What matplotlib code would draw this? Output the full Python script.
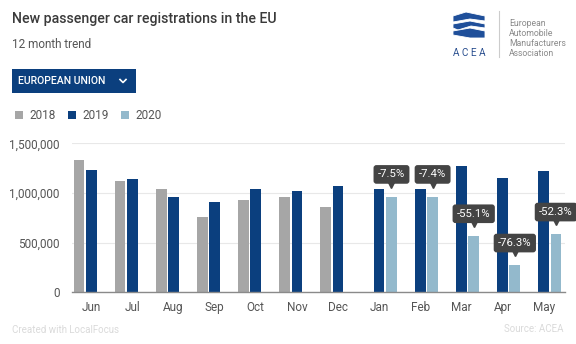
import numpy as np
import matplotlib.pyplot as plt
from matplotlib.patches import FancyBboxPatch, Polygon
from matplotlib.lines import Line2D
from matplotlib.transforms import offset_copy

plt.rcParams['font.family'] = ['Roboto', 'DejaVu Sans']

months = ['Jun', 'Jul', 'Aug', 'Sep', 'Oct', 'Nov', 'Dec', 'Jan', 'Feb', 'Mar', 'Apr', 'May']
years = ['2018', '2019', '2020']
reg_2018 = [1332000, 1121000, 1043000, 758000, 933000, 963000, 856000, np.nan, np.nan, np.nan, np.nan, np.nan]
reg_2019 = [1228000, 1138000, 957000, 909000, 1037000, 1020000, 1074000, 1037000, 1037000, 1272000, 1148000, 1221000]
reg_2020 = [np.nan] * 7 + [963000, 963000, 567000, 272000, 584000]
change_labels = [None] * 7 + ['-7.5%', '-7.4%', '-55.1%', '-76.3%', '-52.3%']

colors = ['#a6a6a6', '#0b3f7e', '#93b9cc']
W, H = 576, 344


def fx(px):
    return px / W


def fy(py):
    return 1 - py / H


fig = plt.figure(figsize=(W / 100, H / 100), dpi=100)
ax = fig.add_axes([fx(72), fy(292.3), fx(565) - fx(72), fy(143.3) - fy(292.3)])

x = np.arange(len(months))
slot = 0.3
bw = 0.26
bars = []
for k, (vals, c) in enumerate(zip([reg_2018, reg_2019, reg_2020], colors)):
    b = ax.bar(x + (k - 1) * slot, vals, width=bw, color=c, zorder=3, label=years[k])
    bars.append(b)

ax.set_xlim(-0.47, 11.52)
ax.set_ylim(0, 1500000)
ax.set_yticks([0, 500000, 1000000, 1500000])
ax.set_yticklabels(['0', '500,000', '1,000,000', '1,500,000'])
ax.set_xticks(x)
ax.set_xticklabels(months)
ax.tick_params(axis='both', length=0, labelsize=8.5, labelcolor='#555555')
ax.tick_params(axis='y', pad=9)
ax.tick_params(axis='x', pad=6)
ax.grid(axis='y', color='#e8e8e8', linewidth=0.8, zorder=0)
for s in ['top', 'right', 'left']:
    ax.spines[s].set_visible(False)
ax.spines['bottom'].set_color('#8a8a8a')
ax.spines['bottom'].set_linewidth(1.0)
ax.spines['bottom'].set_zorder(4)

# change labels above 2020 bars
for i, lab in enumerate(change_labels):
    if lab is None:
        continue
    xi = x[i] + slot
    yi = reg_2020[i]
    tri = offset_copy(ax.transData, fig=fig, x=0, y=8.5, units='points')
    ax.plot([xi], [yi], marker='v', markersize=4.5, color='#444444', transform=tri, zorder=6, clip_on=False)
    ax.annotate(lab, xy=(xi, yi), xytext=(0, 16), textcoords='offset points',
                ha='center', va='center', fontsize=8.2, color='white', zorder=7,
                bbox=dict(boxstyle='round,pad=0.38,rounding_size=0.25', fc='#444444', ec='none'),
                annotation_clip=False)

# header
fig.text(fx(12), fy(19), 'New passenger car registrations in the EU', fontsize=10.2,
         fontweight='medium', color='#3a3a3a', va='center', ha='left')
fig.text(fx(12), fy(45), '12 month trend', fontsize=8.5, color='#555555', va='center', ha='left')

btn = FancyBboxPatch((fx(12), fy(93)), fx(136) - fx(12), fy(69) - fy(93),
                     boxstyle='square,pad=0', transform=fig.transFigure,
                     fc='#0b3f7e', ec='none')
fig.patches.append(btn)
fig.text(fx(18.5), fy(81.5), 'EUROPEAN UNION', fontsize=7.6, fontweight='medium',
         color='white', va='center', ha='left')
fig.lines.append(Line2D([fx(120), fx(123), fx(126)], [fy(79.5), fy(82.5), fy(79.5)],
                        transform=fig.transFigure, color='white', linewidth=1.2))

fig.legend(handles=bars, labels=years, loc='center left', bbox_to_anchor=(fx(15), fy(116)),
           ncol=3, frameon=False, fontsize=8.5, labelcolor='#555555',
           handlelength=0.7, handleheight=0.7, handletextpad=0.55, columnspacing=1.0,
           borderpad=0, borderaxespad=0)

# logo
logo_blue = '#1f4f9a'
shapes = [
    [(453, 16), (466, 12), (485, 16), (485, 21), (470, 19), (453, 22)],
    [(453, 24), (470, 21), (485, 24), (485, 28), (471, 26), (458, 30), (453, 28)],
    [(453, 31), (470, 28), (485, 31), (485, 38), (470, 38), (453, 35)],
]
for pts in shapes:
    fig.patches.append(Polygon([(fx(a), fy(b)) for a, b in pts], closed=True,
                               transform=fig.transFigure, fc=logo_blue, ec='white', lw=0.6))
fig.text(fx(469.5), fy(53), 'A C E A', fontsize=7.2, color='#2a4f8f', ha='center', va='center')
fig.lines.append(Line2D([fx(499), fx(499)], [fy(11), fy(57)], transform=fig.transFigure,
                        color='#cccccc', linewidth=0.8))
for j, word in enumerate(['European', 'Automobile', 'Manufacturers', 'Association']):
    fig.text(fx(509), fy(24 + j * 9.7), word, fontsize=6.2, color='#8a8a8a', ha='left', va='center')

# footer
fig.text(fx(12), fy(330), 'Created with LocalFocus', fontsize=7, color='#dadada', ha='left', va='center')
fig.text(fx(564), fy(329), 'Source: ACEA', fontsize=7, color='#dadada', ha='right', va='center')

fig.savefig('out.png', dpi=100)
